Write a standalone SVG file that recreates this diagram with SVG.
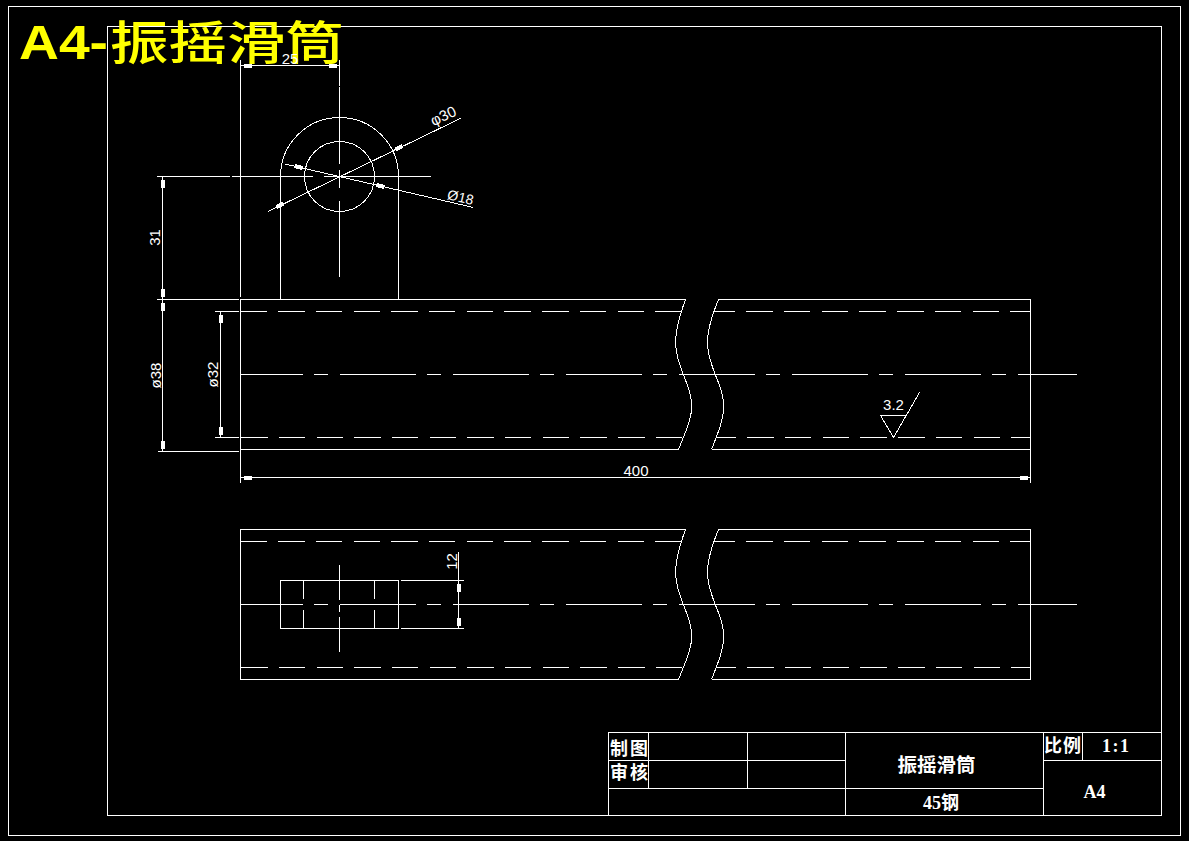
<svg xmlns="http://www.w3.org/2000/svg" xmlns:xlink="http://www.w3.org/1999/xlink" width="1189" height="841" viewBox="0 0 1189 841">
<style>
.l{fill:none;stroke:#fff;stroke-width:1;shape-rendering:crispEdges}
.hid{stroke-dasharray:26.4 11.3}
.ctr{stroke-dasharray:76 11.5 14 11.5;stroke-dashoffset:14}
.d{font-family:"Liberation Sans",Arial,sans-serif;font-size:15px;fill:#fff;font-weight:300}
.t{font-family:"Liberation Serif","Noto Sans CJK SC",serif;font-size:18px;fill:#fff;font-weight:700}
.title{font-weight:700;fill:#ff0}
</style>
<defs>
<polygon id="a" points="0,0 -3,-.6 -3,-2 -11,-2 -11,2 -3,2 -3,.6" fill="#fff" shape-rendering="crispEdges"/>
<g id="tube">
<path class="l" d="M685.5 299.5H240.5V449.5H678.5"/>
<path class="l" d="M718.5 299.5H1030.5V449.5H711.5"/>
<path class="l" d="M685.5 299.5C678 320 675 333 675.7 345C677 370 692 385 691.7 407C691.5 420 685 433 678.5 449.5"/>
<path class="l" d="M718.5 299.5C710 320 707 333 707.5 345C709 370 724 385 723.7 407C723.5 420 718 433 711.5 449.5"/>
<line class="l hid" x1="240.5" y1="311.5" x2="681" y2="311.5"/>
<line class="l hid" x1="714" y1="311.5" x2="1030" y2="311.5" stroke-dashoffset="5.4"/>
<line class="l hid" x1="240.5" y1="437.5" x2="683" y2="437.5" stroke-dashoffset="-0.6"/>
<line class="l hid" x1="717" y1="437.5" x2="1030" y2="437.5" stroke-dashoffset="7.4"/>
<line class="l ctr" x1="240.5" y1="374.5" x2="1077" y2="374.5"/>
</g>
</defs>
<rect width="1189" height="841" fill="#000"/>
<g id="frame">
<rect class="l" x="8.5" y="6.5" width="1172" height="829"/>
<rect class="l" x="107.5" y="26.5" width="1054" height="789"/>
</g>
<g id="title">
<text class="title" x="19" y="59" font-family="Liberation Sans,Arial,sans-serif" font-size="48" textLength="89" lengthAdjust="spacingAndGlyphs">A4-</text>
<text x="110" y="59" font-family="Noto Sans CJK SC,sans-serif" font-size="46" font-weight="500" fill="#ff0" textLength="234" lengthAdjust="spacingAndGlyphs">振摇滑筒</text>
</g>
<g id="main-view">
<use xlink:href="#tube" href="#tube"/>
<path class="l" d="M280.5 299V176.5A59 59 0 0 1 398.5 176.5V299"/>
<circle class="l" cx="339.5" cy="176.5" r="35"/>
<path class="l" d="M339.5 87V164M339.5 170V188M339.5 201V277M232 176.5H313M324 176.5H431"/>
</g>
<g id="plan-view">
<use xlink:href="#tube" href="#tube" y="230"/>
<rect class="l" x="280.5" y="580.5" width="118" height="48"/>
<path class="l" d="M303.5 581V599M303.5 610V628M374.5 581V599M374.5 610V628M339.5 565V600M339.5 605V612M339.5 617V652"/>
</g>
<g id="dimensions">
<path class="l" d="M240.5 60V297M339.5 60V86M240.5 450V483M1030.5 450V483M240.5 65.5H339.5"/>
<path class="l" d="M157 176.5H230M157 299.5H239M158 451.5H239M215 311.5H239M215 437.5H239"/>
<path class="l" d="M162.5 176.5V451.5M220.5 311.5V437.5M240.5 477.5H1030.5"/>
<path class="l" d="M401 580.5H464M401 628.5H464M458.5 552V628.5"/>
<line class="l" x1="268.3" y1="211.3" x2="460.7" y2="118.3"/>
<line class="l" x1="285" y1="164" x2="472.7" y2="207.3"/>
<use href="#a" xlink:href="#a" transform="translate(240.5 65.5) rotate(180)"/>
<use href="#a" xlink:href="#a" transform="translate(339.5 65.5)"/>
<use href="#a" xlink:href="#a" transform="translate(162.5 176.5) rotate(-90)"/>
<use href="#a" xlink:href="#a" transform="translate(162.5 299.5) rotate(90)"/>
<use href="#a" xlink:href="#a" transform="translate(162.5 299.5) rotate(-90)"/>
<use href="#a" xlink:href="#a" transform="translate(162.5 451.5) rotate(90)"/>
<use href="#a" xlink:href="#a" transform="translate(220.5 311.5) rotate(-90)"/>
<use href="#a" xlink:href="#a" transform="translate(220.5 437.5) rotate(90)"/>
<use href="#a" xlink:href="#a" transform="translate(240.5 477.5) rotate(180)"/>
<use href="#a" xlink:href="#a" transform="translate(1030.5 477.5)"/>
<use href="#a" xlink:href="#a" transform="translate(458.5 580.5) rotate(-90)"/>
<use href="#a" xlink:href="#a" transform="translate(458.5 628.5) rotate(90)"/>
<use href="#a" xlink:href="#a" transform="translate(392.6 150.9) rotate(154.2)"/>
<use href="#a" xlink:href="#a" transform="translate(286.4 202.2) rotate(-25.8)"/>
<use href="#a" xlink:href="#a" transform="translate(373.6 184.4) rotate(193)"/>
<use href="#a" xlink:href="#a" transform="translate(305.4 168.6) rotate(13)"/>
<text class="d" x="290" y="64" text-anchor="middle">25</text>
<text class="d" transform="translate(160 237.5) rotate(-90)" text-anchor="middle">31</text>
<text class="d" transform="translate(161 375.5) rotate(-90)" text-anchor="middle">ø38</text>
<text class="d" transform="translate(218 374.5) rotate(-90)" text-anchor="middle">ø32</text>
<text class="d" x="636" y="476" text-anchor="middle">400</text>
<text class="d" transform="translate(457 561.5) rotate(-90)" text-anchor="middle">12</text>
<text class="d" transform="translate(445.5 120.5) rotate(-25.8)" text-anchor="middle">φ30</text>
<text class="d" transform="translate(459.5 202) rotate(13)" text-anchor="middle" style="font-size:14px">Ø18</text>
</g>
<g id="roughness">
<path class="l" d="M880.5 415.5H906.5M880.5 415.5L893.5 437.5L919.5 392.5"/>
<text class="d" x="893.5" y="410" text-anchor="middle">3.2</text>
</g>
<g id="title-block">
<path class="l" d="M608.5 732.5H1161.5V815.5H608.5ZM608.5 760.5H845.5M608.5 788.5H1043.5M1043.5 760.5H1161.5M648.5 732.5V788.5M747.5 732.5V788.5M845.5 732.5V815.5M1043.5 732.5V815.5M1082.5 732.5V760.5"/>
<text class="t" x="610" y="755" textLength="38">制图</text>
<text class="t" x="610" y="779" textLength="38">审核</text>
<text class="t" x="936.5" y="772" text-anchor="middle" style="font-size:19.5px">振摇滑筒</text>
<text class="t" x="941" y="809" text-anchor="middle">45钢</text>
<text class="t" x="1044" y="752" textLength="37">比例</text>
<text class="t" x="1102" y="752" textLength="27">1:1</text>
<text class="t" x="1094.5" y="798" text-anchor="middle">A4</text>
</g>
</svg>
